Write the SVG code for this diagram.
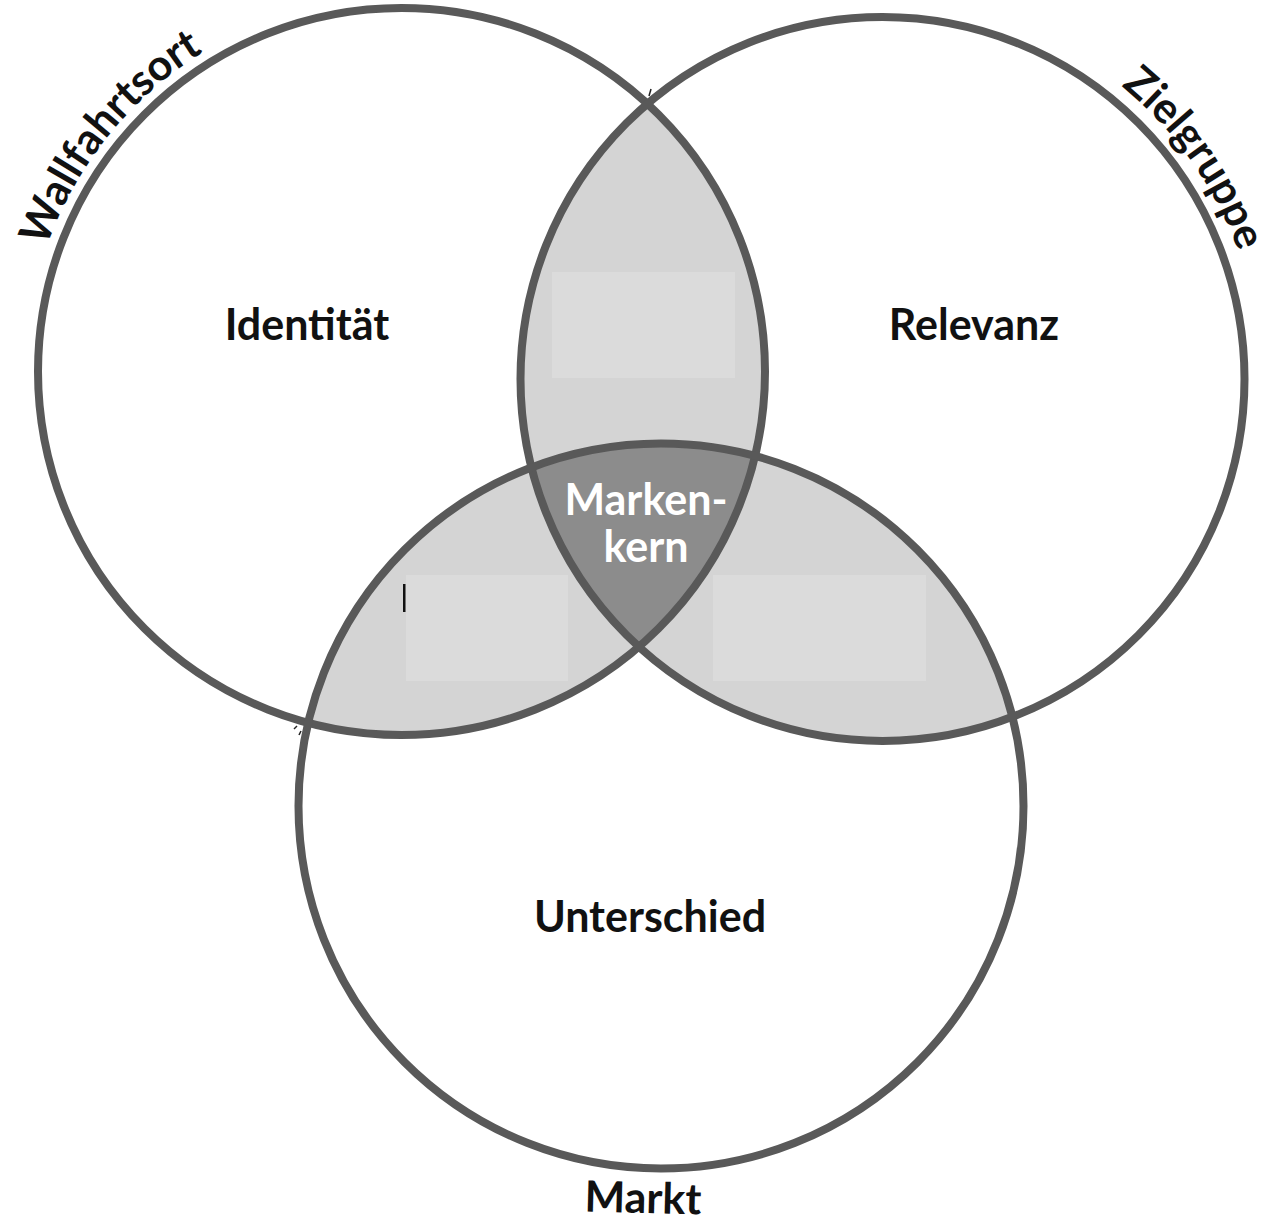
<svg xmlns="http://www.w3.org/2000/svg" xmlns:xlink="http://www.w3.org/1999/xlink" width="1266" height="1221" viewBox="0 0 1266 1221">
  <style>
    .ring { fill: none; stroke: #595959; stroke-width: 8; }
    .lens { fill: #d4d4d4; }
    .core { fill: #8c8c8c; }
    .pad { fill: #dbdbdb; }
    .lbl { font-family: Lato, "Open Sans", "Liberation Sans", sans-serif; font-weight: 700; font-size: 43px; fill: #111; text-anchor: middle; }
    .core-lbl { fill: #ffffff; font-size: 43px; }
  </style>
  <defs>
    <clipPath id="clipL"><circle cx="401.5" cy="371.5" r="363.5"/></clipPath>
    <clipPath id="clipR"><circle cx="882.5" cy="379" r="362"/></clipPath>
    <!-- baselines for the curved circle captions -->
    <path id="arcL" d="M32.7,444.9 A376,376 0 0 1 393.3,-4.4"/>
    <path id="arcR" d="M913.8,2.3 A378,378 0 0 1 1248.0,475.2"/>
  </defs>

  <rect width="1266" height="1221" fill="#ffffff"/>

  <!-- overlap areas -->
  <g id="overlap-top">
    <circle class="lens" cx="882.5" cy="379" r="362" clip-path="url(#clipL)"/>
    <rect class="pad" x="552" y="272" width="183" height="106"/>
  </g>
  <g id="overlap-left">
    <circle class="lens" cx="661" cy="806" r="362.5" clip-path="url(#clipL)"/>
    <rect class="pad" x="406" y="575" width="162" height="106"/>
    <rect x="403" y="584" width="2.5" height="28" fill="#111"/>
  </g>
  <g id="overlap-right">
    <circle class="lens" cx="661" cy="806" r="362.5" clip-path="url(#clipR)"/>
    <rect class="pad" x="713" y="575" width="213" height="106"/>
  </g>
  <g id="markenkern">
    <g clip-path="url(#clipR)">
      <circle class="core" cx="661" cy="806" r="362.5" clip-path="url(#clipL)"/>
    </g>
  </g>

  <!-- the three circles -->
  <g id="circle-wallfahrtsort">
    <circle class="ring" cx="401.5" cy="371.5" r="363.5"/>
    <text class="lbl" x="307" y="340">Identität</text>
    <text class="lbl"><textPath xlink:href="#arcL" startOffset="50%">Wallfahrtsort</textPath></text>
  </g>
  <g id="circle-zielgruppe">
    <circle class="ring" cx="882.5" cy="379" r="362"/>
    <text class="lbl" x="974" y="340">Relevanz</text>
    <text class="lbl" font-size="42"><textPath xlink:href="#arcR" startOffset="50%">Zielgruppe</textPath></text>
  </g>
  <g id="circle-markt">
    <circle class="ring" cx="661" cy="806" r="362.5"/>
    <text class="lbl" x="650" y="932">Unterschied</text>
    <text class="lbl" x="643" y="1213" font-size="45" transform="rotate(1.5 643 1200)">Markt</text>
  </g>

  <g id="markenkern-label">
    <text class="lbl core-lbl" x="646" y="515">Marken-</text>
    <text class="lbl core-lbl" x="646" y="562">kern</text>
  </g>

  <!-- small stray ticks near the outer crossings -->
  <g id="ticks" stroke="#222" stroke-width="1.5" fill="none">
    <line x1="649" y1="96" x2="651" y2="89"/>
    <line x1="294" y1="729" x2="297" y2="726"/>
    <line x1="299" y1="735" x2="301" y2="731"/>
  </g>
</svg>
